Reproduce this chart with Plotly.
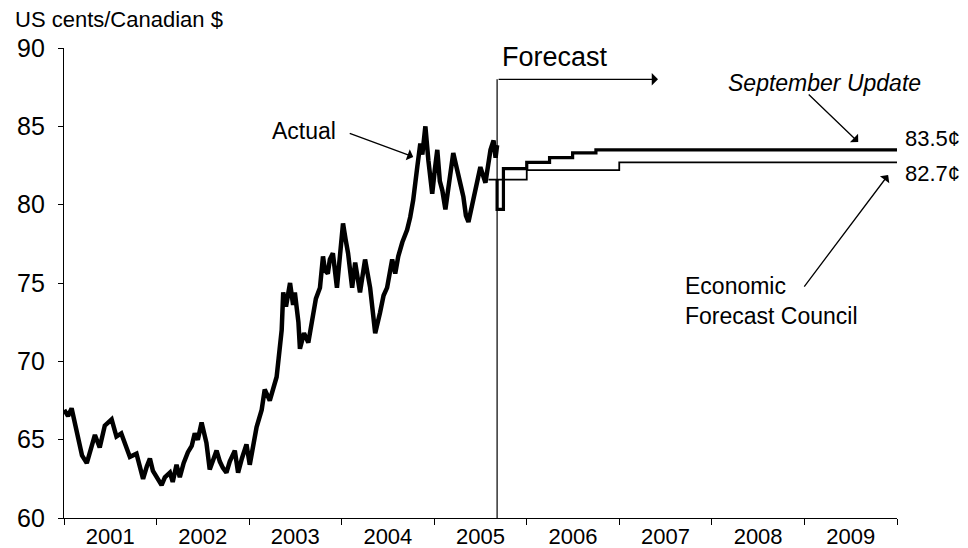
import plotly.graph_objects as go

# ---- Actual exchange rate (US cents per Canadian $) ----
actual_dates = [
    "2001-01-02", "2001-01-17", "2001-01-31", "2001-02-13", "2001-02-25", "2001-03-13",
    "2001-04-01", "2001-04-20", "2001-05-03", "2001-05-22", "2001-06-11", "2001-07-08",
    "2001-07-27", "2001-08-15", "2001-09-02", "2001-09-18", "2001-10-14", "2001-10-27",
    "2001-11-09", "2001-11-24", "2001-12-06", "2001-12-18", "2002-01-01", "2002-01-21",
    "2002-02-03", "2002-02-23", "2002-03-06", "2002-03-21", "2002-04-03", "2002-04-18",
    "2002-05-05", "2002-05-20", "2002-06-01", "2002-06-13", "2002-06-28", "2002-07-07",
    "2002-07-17", "2002-07-30", "2002-08-11", "2002-08-26", "2002-09-08", "2002-09-20",
    "2002-10-04", "2002-10-17", "2002-11-06", "2002-11-19", "2002-12-04", "2002-12-22",
    "2003-01-04", "2003-01-16", "2003-01-31", "2003-02-20", "2003-03-04", "2003-03-24",
    "2003-04-05", "2003-04-20", "2003-04-28", "2003-05-10", "2003-05-16", "2003-05-27",
    "2003-06-12", "2003-06-24", "2003-07-01", "2003-07-15", "2003-07-21", "2003-08-06",
    "2003-08-23", "2003-09-10", "2003-09-22", "2003-10-08", "2003-10-20", "2003-10-28",
    "2003-11-08", "2003-11-16", "2003-11-28", "2003-12-14", "2003-12-26", "2004-01-07",
    "2004-01-17", "2004-01-27", "2004-02-12", "2004-02-24", "2004-03-14", "2004-04-03",
    "2004-04-23", "2004-05-03", "2004-05-13", "2004-06-01", "2004-06-15", "2004-06-29",
    "2004-07-19", "2004-07-31", "2004-08-12", "2004-08-28", "2004-09-16", "2004-09-28",
    "2004-10-10", "2004-10-26", "2004-11-07", "2004-11-15", "2004-11-27", "2004-12-09",
    "2004-12-24", "2005-01-03", "2005-01-13", "2005-01-23", "2005-02-02", "2005-02-14",
    "2005-02-24", "2005-03-05", "2005-03-17", "2005-03-27", "2005-04-06", "2005-04-16",
    "2005-04-26", "2005-05-06", "2005-05-16", "2005-05-26", "2005-06-04", "2005-06-18",
    "2005-07-02", "2005-07-22", "2005-08-03", "2005-08-11", "2005-08-23", "2005-08-31",
    "2005-09-06",
]
actual_values = [
    66.9, 66.5, 67.0, 66.1, 65.2, 64.0,
    63.5, 64.5, 65.3, 64.5, 65.9, 66.3,
    65.2, 65.4, 64.6, 63.9, 64.1, 63.2,
    62.5, 63.3, 63.8, 63.0, 62.6, 62.1,
    62.6, 62.9, 62.3, 63.4, 62.6, 63.5,
    64.2, 64.6, 65.4, 65.0, 66.1, 65.5,
    64.8, 63.1, 63.7, 64.3, 63.6, 63.2,
    62.9, 63.6, 64.3, 62.9, 63.8, 64.7,
    63.4, 64.5, 65.8, 66.9, 68.2, 67.5,
    68.3, 69.0, 70.2, 72.0, 74.4, 73.5,
    75.0, 73.6, 74.4, 72.5, 70.8, 71.8,
    71.2, 73.1, 74.0, 74.7, 76.7, 75.8,
    75.6, 76.5, 76.9, 74.7, 77.1, 78.8,
    77.8, 76.9, 74.7, 76.3, 74.4, 76.5,
    74.7, 73.5, 71.8, 73.1, 74.2, 74.7,
    76.5, 75.6, 76.7, 77.6, 78.4, 79.2,
    80.3, 82.4, 83.9, 83.2, 85.0, 82.8,
    80.7, 82.2, 83.5, 81.5, 80.9, 79.7,
    80.8, 81.8, 83.3, 82.6, 82.0, 81.2,
    80.5, 79.3, 78.9, 79.6, 80.3, 81.2,
    82.4, 81.4, 82.6, 83.5, 84.1, 83.0,
    83.8,
]

# ---- September Update forecast (quarterly steps) ----
sept_dates = ["2005-09-06", "2005-09-06", "2005-10-01", "2006-01-01", "2006-04-01",
              "2006-07-01", "2006-10-01", "2010-01-01"]
sept_values = [81.6, 79.7, 82.3, 82.7, 83.0, 83.3, 83.5, 83.5]

# ---- Economic Forecast Council ----
efc_dates = ["2005-08-03", "2006-01-01", "2007-01-01", "2010-01-01"]
efc_values = [81.6, 82.2, 82.7, 82.7]

forecast_start = "2005-09-06"
forecast_arrow_end = "2007-06-03"
forecast_arrow_level = 88.0

year_ticks = ["2001", "2002", "2003", "2004", "2005", "2006", "2007", "2008", "2009"]
y_ticks = [60, 65, 70, 75, 80, 85, 90]

FONT = "Liberation Sans, Arial, sans-serif"
ANN = 23

fig = go.Figure()
fig.add_trace(go.Scatter(x=actual_dates, y=actual_values, mode="lines",
                         line=dict(color="black", width=4.5), hoverinfo="skip"))
fig.add_trace(go.Scatter(x=efc_dates, y=efc_values, mode="lines", line_shape="hv",
                         line=dict(color="black", width=1.8), hoverinfo="skip"))
fig.add_trace(go.Scatter(x=sept_dates, y=sept_values, mode="lines", line_shape="hv",
                         line=dict(color="black", width=3.2), hoverinfo="skip"))

# Forecast divider line
fig.add_shape(type="line", xref="x", yref="y", x0=forecast_start, x1=forecast_start,
              y0=60, y1=forecast_arrow_level, line=dict(color="black", width=1.2))
fig.add_annotation(x=forecast_arrow_end, y=forecast_arrow_level, ax=forecast_start,
                   ay=forecast_arrow_level, axref="x", ayref="y", xref="x", yref="y",
                   text="", showarrow=True, arrowhead=1, arrowsize=1.6, arrowwidth=1.3,
                   arrowcolor="black")
fig.add_annotation(x="2005-09-16", y=89.45, xref="x", yref="y", text="Forecast",
                   showarrow=False, xanchor="left", yanchor="middle",
                   font=dict(size=27, color="black", family=FONT))

# Actual label
fig.add_annotation(x="2003-12-17", y=84.7, xref="x", yref="y", text="Actual",
                   showarrow=False, xanchor="right", yanchor="middle",
                   font=dict(size=ANN, color="black", family=FONT))
fig.add_annotation(x="2004-10-10", y=83.05, xref="x", yref="y", text="", showarrow=True,
                   ax=-65, ay=-24, arrowhead=1, arrowsize=1.5, arrowwidth=1.3,
                   arrowcolor="black")

# September Update label
fig.add_annotation(x="2009-03-19", y=87.76, xref="x", yref="y",
                   text="<i>September Update</i>", showarrow=False,
                   xanchor="center", yanchor="middle",
                   font=dict(size=ANN, color="black", family=FONT))
fig.add_annotation(x="2009-08-01", y=84.0, xref="x", yref="y", text="", showarrow=True,
                   ax=-51, ay=-49, arrowhead=1, arrowsize=1.5, arrowwidth=1.3,
                   arrowcolor="black")

# EFC label
fig.add_annotation(x="2007-09-10", y=73.85, xref="x", yref="y",
                   text="Economic<br>Forecast Council", showarrow=False,
                   xanchor="left", yanchor="middle", align="left",
                   font=dict(size=ANN, color="black", family=FONT))
fig.add_annotation(x="2009-11-27", y=81.89, xref="x", yref="y", text="", showarrow=True,
                   ax=-85, ay=113, arrowhead=1, arrowsize=1.5, arrowwidth=1.3,
                   arrowcolor="black")

# End values
fig.add_annotation(x=1.007, y=84.25, xref="paper", yref="y", text="83.5¢",
                   showarrow=False, xanchor="left", yanchor="middle",
                   font=dict(size=22, color="black", family=FONT))
fig.add_annotation(x=1.007, y=82.0, xref="paper", yref="y", text="82.7¢",
                   showarrow=False, xanchor="left", yanchor="middle",
                   font=dict(size=22, color="black", family=FONT))

# Axis title
fig.add_annotation(x=-0.0612, y=1.06, xref="paper", yref="paper",
                   text="US cents/Canadian $", showarrow=False,
                   xanchor="left", yanchor="middle",
                   font=dict(size=22, color="black", family=FONT))

fig.update_layout(
    width=960, height=540,
    margin=dict(l=56, r=71, t=40, b=30, autoexpand=False),
    paper_bgcolor="white", plot_bgcolor="white",
    showlegend=False,
    font=dict(family=FONT, color="black"),
    xaxis=dict(
        type="date", range=["2001-01-01", "2010-01-01"],
        tick0="2001-01-01", dtick="M12", tickformat="%Y", ticklabelmode="period",
        ticks="outside", ticklen=6, tickcolor="black", tickwidth=1,
        showline=True, linecolor="black", linewidth=1.2,
        showgrid=False, zeroline=False, automargin=False, ticklabelstandoff=-8,
        tickfont=dict(size=22, color="black", family=FONT),
    ),
    yaxis=dict(
        range=[60, 90], tickvals=y_ticks, ticktext=[str(v) for v in y_ticks],
        ticks="outside", ticklen=5, tickcolor="black", tickwidth=1,
        showline=True, linecolor="black", linewidth=1.2,
        showgrid=False, zeroline=False, ticklabelstandoff=8, automargin=False,
        tickfont=dict(size=25, color="black", family=FONT),
    ),
)

fig.write_html("out.html")
